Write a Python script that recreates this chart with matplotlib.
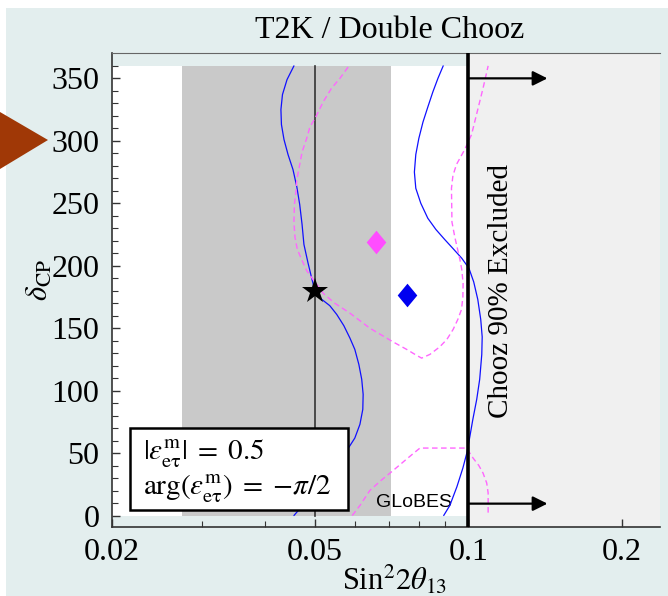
import matplotlib
matplotlib.use('Agg')
import matplotlib.pyplot as plt
from matplotlib.patches import Rectangle, Polygon

plt.rcParams['font.family'] = ['Liberation Serif', 'DejaVu Serif']
plt.rcParams['mathtext.fontset'] = 'stix'

# ---------------- data ----------------
band_lo, band_hi = 0.0274, 0.0705          # shaded sin^2 2theta13 band
chooz_limit = 0.1
arrow_end = 0.143
arrow_levels = [350, 9.5]
dcp_max = 360
true_s2t, true_dcp = 0.05, 180
fit_magenta = (0.066, 219)
fit_blue = (0.0757, 176.5)

blue_left_x = [0.0455, 0.0441, 0.0432, 0.0429, 0.0430, 0.0435, 0.0443, 0.0453, 0.0461,
               0.0467, 0.0472, 0.0476, 0.0485, 0.0493, 0.0500, 0.0516, 0.0535, 0.0552,
               0.0570, 0.0586, 0.0599, 0.0610, 0.0618, 0.0622, 0.0621, 0.0613, 0.0599,
               0.0584, 0.0560, 0.0523, 0.0485, 0.0464, 0.0455]
blue_left_y = [360, 349, 337, 325, 313, 301, 289, 277, 263,
               249, 233, 217, 202, 190, 180, 173, 168, 161,
               152, 142, 133, 121, 109, 97, 85, 73, 62,
               55, 44, 28, 14, 4, 0]

blue_right_x = [0.0893, 0.0872, 0.0852, 0.0833, 0.0815, 0.0800, 0.0789, 0.0784, 0.0789,
                0.0807, 0.0833, 0.0864, 0.0899, 0.0937, 0.0971, 0.1003, 0.1025, 0.1044,
                0.1058, 0.1065, 0.1063, 0.1053, 0.1039, 0.1021, 0.1007, 0.0995, 0.0976,
                0.0950, 0.0920, 0.0895]
blue_right_y = [360, 350, 339, 327, 315, 302, 289, 275, 262,
                250, 238, 229, 221, 213, 206, 198, 187, 173,
                157, 143, 129, 109, 93, 77, 63, 51, 38,
                23, 8, 0]

mag_main_x = [0.0581, 0.0560, 0.0539, 0.0519, 0.0502, 0.0489, 0.0482, 0.0472, 0.0467,
              0.0461, 0.0459, 0.0456, 0.0455, 0.0457, 0.0462, 0.0471, 0.0482, 0.0496,
              0.0511, 0.0519, 0.0547, 0.0586, 0.0641, 0.0712, 0.0757, 0.0786, 0.0810,
              0.0841, 0.0879, 0.0908, 0.0934, 0.0954, 0.0970, 0.0976, 0.0977, 0.0971,
              0.0963, 0.0941, 0.0929, 0.0927, 0.0933, 0.0948, 0.0984, 0.1015, 0.1038,
              0.1069, 0.1094]
mag_main_y = [359, 350, 342, 331, 319, 311, 302, 291, 281,
              269, 259, 249, 235, 223, 213, 205, 196, 189,
              182, 178, 170, 162, 150, 139, 133, 129, 126,
              129, 135, 141, 149, 157, 165, 175, 186, 197,
              205, 223, 235, 262, 272, 281, 293, 305, 321,
              342, 360]

mag_low_x = [0.0592, 0.0613, 0.0641, 0.0674, 0.0712, 0.0751, 0.0782, 0.0804, 0.0879,
             0.0992, 0.1022, 0.1049, 0.1069, 0.1087, 0.1094, 0.1094]
mag_low_y = [0, 8, 20, 28, 36, 44, 50, 54, 54,
             54, 46, 40, 34, 26, 18, 0]

x_major = [0.02, 0.05, 0.1, 0.2]
x_major_labels = ['0.02', '0.05', '0.1', '0.2']
x_minor = [0.03, 0.04, 0.06, 0.07, 0.08, 0.09]
y_major = [0, 50, 100, 150, 200, 250, 300, 350]
y_minor = list(range(0, 361, 10))

# ---------------- styling ----------------
BG = '#e3eeee'
W, H = 668, 596
fig = plt.figure(figsize=(W / 100, H / 100), dpi=100)
fig.patch.set_facecolor('white')
fig.add_artist(Rectangle((6 / W, 0), 1, (H - 8) / H, transform=fig.transFigure,
                         facecolor=BG, edgecolor='none', zorder=-10))

ax = fig.add_axes([112 / W, (H - 527) / H, 548 / W, 474 / H])
ax.set_facecolor(BG)
ax.set_xscale('log')
xmin, xmax = 0.02, 0.2378
ax.set_xlim(xmin, xmax)
ax.set_ylim(-9.2, 370.3)

ax.fill_between([xmin, chooz_limit], 0, dcp_max, color='white', lw=0, zorder=0)
ax.fill_between([band_lo, band_hi], 0, dcp_max, color='#c9c9c9', lw=0, zorder=0.5)
ax.axvspan(chooz_limit, xmax, color='#f0f0f0', lw=0, zorder=0)

line_kw = dict(solid_joinstyle='round', solid_capstyle='round')
ax.plot(blue_left_x, blue_left_y, color='#1010ff', lw=0.9, zorder=3, **line_kw)
ax.plot(blue_right_x, blue_right_y, color='#1010ff', lw=0.9, zorder=3, **line_kw)
ax.plot(mag_main_x, mag_main_y, color='#ff66ff', lw=1.0, dashes=(4, 2.5), zorder=3)
ax.plot(mag_low_x, mag_low_y, color='#ff66ff', lw=1.0, dashes=(4, 2.5), zorder=3)

ax.plot([true_s2t, true_s2t], [0, dcp_max], color='#333333', lw=1.2, zorder=2)
ax.axvline(chooz_limit, color='black', lw=2.6, zorder=4)
for yv in arrow_levels:
    ax.annotate('', xy=(arrow_end, yv), xytext=(chooz_limit, yv),
                arrowprops=dict(arrowstyle='-|>', lw=1.6, color='black',
                                mutation_scale=22, shrinkA=0, shrinkB=0), zorder=4)

diamond = [(0, 1), (0.83, 0), (0, -1), (-0.83, 0), (0, 1)]
ax.plot(*fit_magenta, marker=diamond, ms=17, color='#ff4dff', mew=0, zorder=5)
ax.plot(*fit_blue, marker=diamond, ms=17, color='#0000f0', mew=0, zorder=5)
ax.plot(true_s2t, true_dcp, marker='*', ms=19, color='black', mew=0, zorder=6)

ax.text(0.116, 180, 'Chooz 90% Excluded', rotation=90, ha='center', va='center',
        fontsize=21, zorder=5)
ax.text(0.0659, 10.5, 'GLoBES', ha='left', va='center', fontsize=14,
        family=['Liberation Sans', 'DejaVu Sans'], zorder=2)

# parameter box
ax.add_patch(Rectangle((0.0328, 0.0359), 0.398, 0.173, transform=ax.transAxes,
                       facecolor='white', edgecolor='black', lw=1.8, zorder=7))
ax.text(0.0566, 0.156, r'$|\epsilon^{\rm m}_{\rm e\tau}|\;=\;0.5$', transform=ax.transAxes,
        ha='left', va='center', fontsize=21, zorder=8)
ax.text(0.0566, 0.0823, r'$\arg(\epsilon^{\rm m}_{\rm e\tau})\;=\;{-}\pi/2$', transform=ax.transAxes,
        ha='left', va='center', fontsize=21, zorder=8)

# axes / ticks
ax.set_xticks(x_major)
ax.set_xticklabels(x_major_labels)
ax.set_xticks(x_minor, minor=True)
ax.set_xticklabels([], minor=True)
ax.set_yticks(y_major)
ax.set_yticks(y_minor, minor=True)
ax.tick_params(which='both', direction='in', labelsize=23, color='#333333')
ax.tick_params(which='major', length=6, width=1)
ax.tick_params(which='minor', length=4, width=0.8)
ax.tick_params(axis='x', pad=8)
ax.tick_params(axis='y', pad=9)
for s in ['left', 'bottom']:
    ax.spines[s].set_linewidth(1.2)
    ax.spines[s].set_color('#333333')
ax.spines['top'].set_linewidth(0.8)
ax.spines['top'].set_color('#666666')
ax.spines['right'].set_visible(False)

ax.set_xlabel(r'Sin$^2 2\theta_{13}$', fontsize=22, va='center')
ax.xaxis.set_label_coords(0.516, -0.112)
ax.set_ylabel(r'$\delta_{\rm CP}$', fontsize=22, va='center')
ax.yaxis.set_label_coords(-0.131, 0.521)

fig.text(390 / W, 1 - 30 / H, 'T2K / Double Chooz', ha='center', va='center', fontsize=23)

# marker triangle at left
fig.add_artist(Polygon([(0, 1 - 112 / H), (48 / W, 1 - 140 / H), (0, 1 - 169 / H)],
                       closed=True, transform=fig.transFigure, facecolor='#a03806',
                       edgecolor='none', zorder=10))

fig.savefig('out.png', dpi=100, facecolor=fig.get_facecolor())
